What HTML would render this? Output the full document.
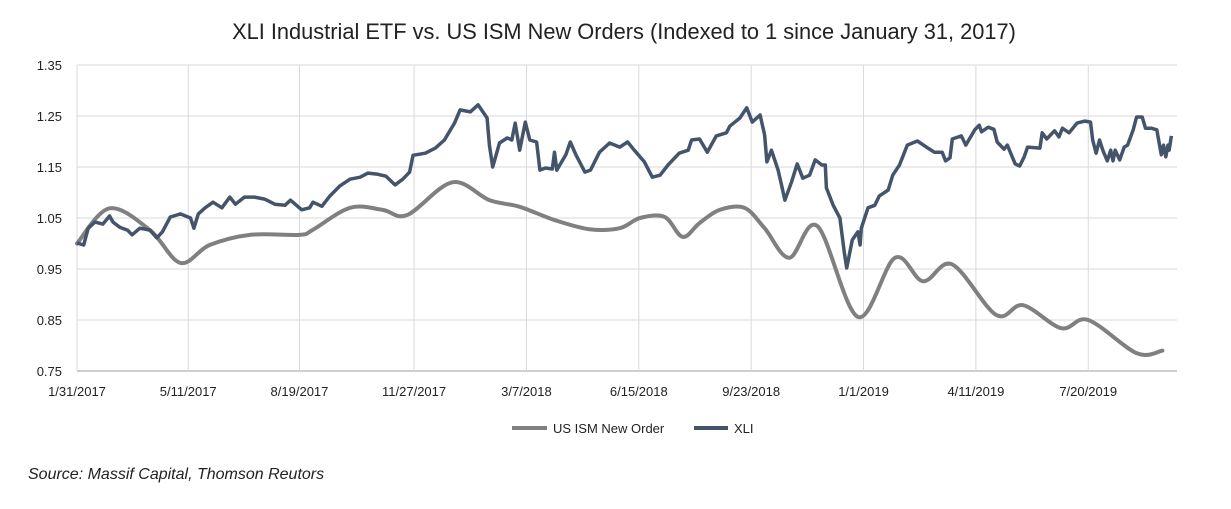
<!DOCTYPE html>
<html><head><meta charset="utf-8"><style>
body{margin:0;background:#fff;width:1231px;height:504px;overflow:hidden;font-family:"Liberation Sans",sans-serif;}
</style></head><body>
<svg id="chart" width="1231" height="504" xmlns="http://www.w3.org/2000/svg">
<text x="624" y="39" text-anchor="middle" font-size="21.8" fill="#222">XLI Industrial ETF vs. US ISM New Orders (Indexed to 1 since January 31, 2017)</text>
<g id="grid"></g>
<g id="yaxis"></g>
<g id="xaxis"></g>
<g id="series"></g>
<g>
<line x1="512" y1="428" x2="547" y2="428" stroke="#808080" stroke-width="4"/>
<text x="553" y="433" font-size="13" fill="#222">US ISM New Order</text>
<line x1="694" y1="428" x2="728" y2="428" stroke="#44546A" stroke-width="4"/>
<text x="734" y="433" font-size="13" fill="#222">XLI</text>
</g>
<text x="28" y="479" font-size="16" font-style="italic" fill="#222">Source: Massif Capital, Thomson Reutors</text>
</svg>
<script>
const yTicks=[0.75,0.85,0.95,1.05,1.15,1.25,1.35];
const xTickDays=[0,99,198,300,400,500,600,700,800,900];
const xTickLabels=["1/31/2017","5/11/2017","8/19/2017","11/27/2017","3/7/2018","6/15/2018","9/23/2018","1/1/2019","4/11/2019","7/20/2019"];
const ismDays=[0,29,65,92,118,154,198,210,243,272,294,334,367,394,425,456,483,501,523,539,554,572,594,612,634,659,695,728,753,779,818,842,876,900,943,966];
const ismValues=[1.0,1.069,1.026,0.962,0.997,1.017,1.017,1.027,1.07,1.066,1.056,1.12,1.085,1.072,1.046,1.028,1.03,1.05,1.052,1.013,1.04,1.066,1.07,1.03,0.972,1.034,0.856,0.972,0.926,0.959,0.86,0.879,0.834,0.85,0.785,0.79];
const xliDays=[0,6,10,16,23,29,32,38,45,49,56,65,71,76,83,92,101,104,108,114,121,129,136,141,149,158,167,176,185,190,200,207,210,218,225,234,243,252,259,267,275,283,290,296,299,310,319,327,336,341,350,357,365,367,370,376,383,387,390,394,399,403,409,412,417,423,425,427,435,439,444,452,457,465,474,483,490,496,505,512,519,526,536,544,547,554,561,569,578,581,590,596,601,608,612,614,618,624,627,630,636,641,646,652,657,663,666,667,673,679,683,685,690,695,697,698,704,710,714,722,726,732,739,748,756,763,770,773,777,779,787,791,799,803,805,811,816,819,825,828,835,839,843,846,857,859,863,870,874,877,883,890,897,902,904,907,910,913,917,920,922,924,928,932,935,940,943,948,951,956,961,965,967,969,971,972,974];
const xliValues=[1.001,0.997,1.030,1.042,1.038,1.054,1.042,1.032,1.026,1.017,1.030,1.026,1.011,1.023,1.052,1.058,1.050,1.030,1.058,1.070,1.081,1.070,1.091,1.077,1.091,1.091,1.087,1.077,1.075,1.085,1.066,1.070,1.081,1.073,1.093,1.113,1.126,1.130,1.138,1.136,1.132,1.115,1.126,1.140,1.173,1.177,1.187,1.203,1.236,1.262,1.258,1.272,1.246,1.193,1.150,1.197,1.207,1.203,1.236,1.183,1.238,1.203,1.199,1.144,1.148,1.146,1.179,1.144,1.174,1.199,1.174,1.140,1.144,1.179,1.197,1.189,1.199,1.183,1.160,1.130,1.134,1.154,1.177,1.183,1.203,1.205,1.179,1.211,1.217,1.230,1.246,1.266,1.238,1.252,1.213,1.160,1.183,1.144,1.115,1.085,1.121,1.156,1.128,1.134,1.164,1.154,1.154,1.109,1.075,1.050,0.981,0.952,1.007,1.023,0.997,1.030,1.070,1.075,1.093,1.105,1.134,1.154,1.193,1.201,1.189,1.179,1.179,1.162,1.168,1.205,1.211,1.193,1.223,1.232,1.219,1.228,1.224,1.199,1.185,1.193,1.156,1.152,1.170,1.189,1.187,1.217,1.205,1.221,1.209,1.226,1.217,1.236,1.240,1.238,1.203,1.177,1.203,1.183,1.162,1.183,1.162,1.183,1.164,1.189,1.193,1.223,1.248,1.248,1.226,1.226,1.223,1.174,1.193,1.170,1.193,1.183,1.211];

const NS="http://www.w3.org/2000/svg";
const L=77,R=1177,T=65,B=371,D0=0,D1=979,V0=0.75,V1=1.35;
const xs=d=>L+(d-D0)/(D1-D0)*(R-L);
const ys=v=>B-(v-V0)/(V1-V0)*(B-T);
function mk(tag,attrs,parent){const e=document.createElementNS(NS,tag);for(const k in attrs)e.setAttribute(k,attrs[k]);parent.appendChild(e);return e;}
const grid=document.getElementById('grid'),ya=document.getElementById('yaxis'),xa=document.getElementById('xaxis'),ser=document.getElementById('series');
yTicks.forEach(v=>{
  const ln=mk('line',{x1:L,x2:R,y1:ys(v),y2:ys(v),stroke:v===V0?'#bfbfbf':'#d9d9d9','stroke-width':v===V0?1.5:1},grid);
  
  
  const t=mk('text',{x:62,y:ys(v)+5,'text-anchor':'end','font-size':13,fill:'#222'},ya);
  
  
  t.textContent=v.toFixed(2);
});
xTickDays.forEach((d,i)=>{
  const ln=mk('line',{x1:xs(d),x2:xs(d),y1:T,y2:B,stroke:'#d9d9d9','stroke-width':1},grid);
  
  
  const t=mk('text',{x:xs(d),y:396,'text-anchor':'middle','font-size':13,fill:'#222'},xa);
  
  
  t.textContent=xTickLabels[i];
});
const ip=ismDays.map((d,i)=>[xs(d),ys(ismValues[i])]);
let p='M'+ip[0][0]+','+ip[0][1];
for(let i=0;i<ip.length-1;i++){
  const p0=ip[Math.max(0,i-1)],p1=ip[i],p2=ip[i+1],p3=ip[Math.min(ip.length-1,i+2)];
  const c1=[p1[0]+(p2[0]-p0[0])/6,p1[1]+(p2[1]-p0[1])/6];
  const c2=[p2[0]-(p3[0]-p1[0])/6,p2[1]-(p3[1]-p1[1])/6];
  p+=` C${c1[0]},${c1[1]} ${c2[0]},${c2[1]} ${p2[0]},${p2[1]}`;
}
const ism=mk('path',{d:p,fill:'none',stroke:'#808080','stroke-width':4,'stroke-linejoin':'round','stroke-linecap':'round'},ser);


const xp=xliDays.map((d,i)=>(i?'L':'M')+xs(d).toFixed(1)+','+ys(xliValues[i]).toFixed(1)).join('');
const xli=mk('path',{d:xp,fill:'none',stroke:'#44546A','stroke-width':3.5,'stroke-linejoin':'round'},ser);


</script>
</body></html>
